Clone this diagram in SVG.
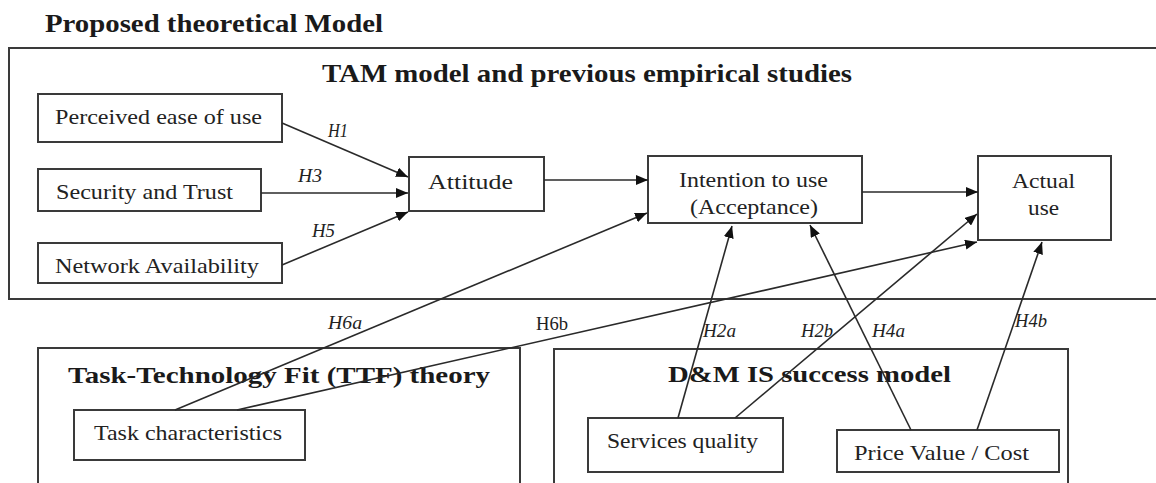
<svg xmlns="http://www.w3.org/2000/svg" width="1156" height="483" viewBox="0 0 1156 483">
<style>
  .bg { fill: #ffffff; }
  .container { fill: none; stroke: #3a3a3a; stroke-width: 2; }
  .box { fill: #ffffff; stroke: #3a3a3a; stroke-width: 2; }
  .title { font-family: "Liberation Serif", "DejaVu Serif", serif; font-weight: bold; fill: #1a1a1a; }
  .lbl { font-family: "Liberation Serif", "DejaVu Serif", serif; font-weight: normal; fill: #222222; font-size: 22px; }
  .hyp { font-family: "Liberation Serif", "DejaVu Serif", serif; font-style: italic; fill: #222222; font-size: 18px; }
  .hypu { font-family: "Liberation Serif", "DejaVu Serif", serif; fill: #222222; font-size: 18px; }
  .conn { fill: none; stroke: #2a2a2a; stroke-width: 1.6; marker-end: url(#arrow); }
</style>
<defs>
  <marker id="arrow" viewBox="0 0 12 10" refX="12" refY="5" markerWidth="12" markerHeight="10" markerUnits="userSpaceOnUse" orient="auto">
    <path d="M0,0 L12,5 L0,10 z" fill="#111111"/>
  </marker>
</defs>
<rect class="bg" x="0" y="0" width="1156" height="483"/>

<text class="title" x="45" y="32" font-size="25" textLength="338" lengthAdjust="spacingAndGlyphs">Proposed theoretical Model</text>

<g id="tam-container">
  <rect class="container" x="9" y="48" width="1151" height="251"/>
  <text class="title" x="322" y="82" font-size="26" textLength="530" lengthAdjust="spacingAndGlyphs">TAM model and previous empirical studies</text>
</g>
<g id="ttf-container">
  <rect class="container" x="38" y="348" width="482" height="150"/>
  <text class="title" x="68" y="383" font-size="24" textLength="422" lengthAdjust="spacingAndGlyphs">Task-Technology Fit (TTF) theory</text>
</g>
<g id="dm-container">
  <rect class="container" x="554" y="349" width="514" height="150"/>
  <text class="title" x="668" y="382" font-size="24" textLength="283" lengthAdjust="spacingAndGlyphs">D&amp;M IS success model</text>
</g>

<g id="perceived-ease">
  <rect class="box" x="38" y="94" width="244" height="48"/>
  <text class="lbl" x="55" y="124" textLength="207" lengthAdjust="spacingAndGlyphs">Perceived ease of use</text>
</g>
<g id="security-trust">
  <rect class="box" x="38" y="169" width="223" height="42"/>
  <text class="lbl" x="56" y="199" textLength="177" lengthAdjust="spacingAndGlyphs">Security and Trust</text>
</g>
<g id="network-availability">
  <rect class="box" x="38" y="243" width="244" height="40"/>
  <text class="lbl" x="55" y="273" textLength="204" lengthAdjust="spacingAndGlyphs">Network Availability</text>
</g>
<g id="attitude">
  <rect class="box" x="409" y="157" width="135" height="54"/>
  <text class="lbl" x="428" y="189" font-size="25" textLength="85" lengthAdjust="spacingAndGlyphs">Attitude</text>
</g>
<g id="intention">
  <rect class="box" x="648" y="156" width="214" height="67"/>
  <text class="lbl" x="679" y="187" textLength="149" lengthAdjust="spacingAndGlyphs">Intention to use</text>
  <text class="lbl" x="690" y="214" textLength="128" lengthAdjust="spacingAndGlyphs">(Acceptance)</text>
</g>
<g id="actual-use">
  <rect class="box" x="978" y="156" width="133" height="84"/>
  <text class="lbl" x="1012" y="188" textLength="63" lengthAdjust="spacingAndGlyphs">Actual</text>
  <text class="lbl" x="1028" y="215" textLength="31" lengthAdjust="spacingAndGlyphs">use</text>
</g>
<g id="task-characteristics">
  <rect class="box" x="74" y="410" width="231" height="50"/>
  <text class="lbl" x="94" y="440" textLength="188" lengthAdjust="spacingAndGlyphs">Task characteristics</text>
</g>
<g id="services-quality">
  <rect class="box" x="588" y="418" width="195" height="54"/>
  <text class="lbl" x="607" y="448" textLength="151" lengthAdjust="spacingAndGlyphs">Services quality</text>
</g>
<g id="price-value">
  <rect class="box" x="837" y="430" width="222" height="42"/>
  <text class="lbl" x="854" y="460" textLength="175" lengthAdjust="spacingAndGlyphs">Price Value / Cost</text>
</g>

<g id="connectors">
  <path class="conn" d="M282,123 L408,177"/>
  <path class="conn" d="M261,193 L408,193"/>
  <path class="conn" d="M282,265 L408,212"/>
  <path class="conn" d="M544,180 L648,180"/>
  <path class="conn" d="M862,192 L978,192"/>
  <path class="conn" d="M175,410 L647,213"/>
  <path class="conn" d="M237,410 L977,242"/>
  <path class="conn" d="M678,418 L732,226"/>
  <path class="conn" d="M735,418 L977,214"/>
  <path class="conn" d="M911,430 L810,225"/>
  <path class="conn" d="M977,430 L1042,242"/>
  <text class="hyp" x="328" y="137" textLength="20" lengthAdjust="spacingAndGlyphs">H1</text>
  <text class="hyp" x="298" y="182" textLength="24" lengthAdjust="spacingAndGlyphs">H3</text>
  <text class="hyp" x="312" y="237" textLength="23" lengthAdjust="spacingAndGlyphs">H5</text>
  <text class="hyp" x="328" y="329" textLength="34" lengthAdjust="spacingAndGlyphs">H6a</text>
  <text class="hypu" x="536" y="330" textLength="32" lengthAdjust="spacingAndGlyphs">H6b</text>
  <text class="hyp" x="703" y="337" textLength="33" lengthAdjust="spacingAndGlyphs">H2a</text>
  <text class="hyp" x="801" y="337" textLength="32" lengthAdjust="spacingAndGlyphs">H2b</text>
  <text class="hyp" x="872" y="337" textLength="33" lengthAdjust="spacingAndGlyphs">H4a</text>
  <text class="hyp" x="1015" y="327" textLength="32" lengthAdjust="spacingAndGlyphs">H4b</text>
</g>
</svg>
